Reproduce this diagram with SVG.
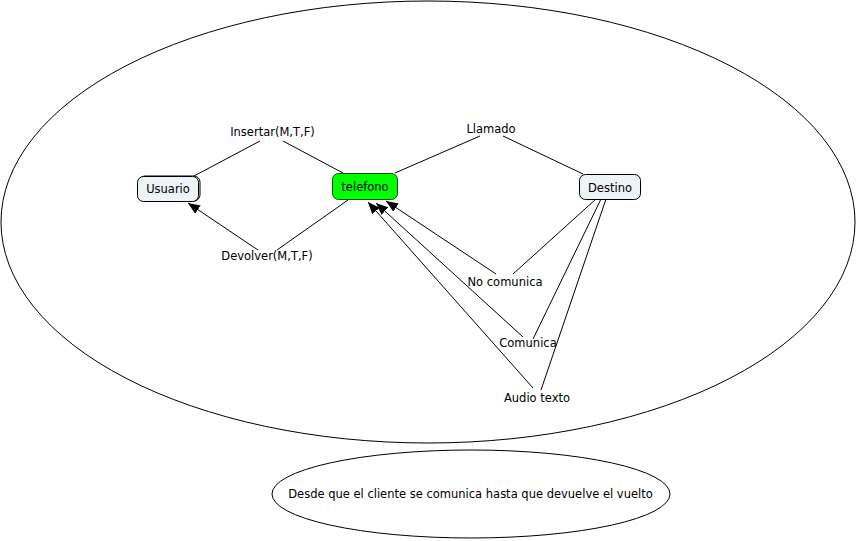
<svg xmlns="http://www.w3.org/2000/svg" width="856" height="541" viewBox="0 0 856 541">
<defs>
<style>
text{font-family:"DejaVu Sans","Liberation Sans",sans-serif;font-size:11.5px;fill:#000;text-anchor:middle}
.line{stroke:#000;stroke-width:1;fill:none}
.node{stroke:#000;stroke-width:1}
</style>
<marker id="arr" viewBox="0 0 12 10" refX="12" refY="5" markerWidth="12" markerHeight="10" markerUnits="userSpaceOnUse" orient="auto">
<path d="M0,0 L12,5 L0,10 Z" fill="#000"/>
</marker>
</defs>
<rect width="856" height="541" fill="#fff"/>
<g id="outer">
<ellipse cx="428" cy="222" rx="427" ry="221" fill="none" stroke="#000"/>
</g>
<g id="note">
<ellipse cx="471" cy="494" rx="199" ry="44" fill="none" stroke="#000"/>
<text x="470.5" y="498">Desde que el cliente se comunica hasta que devuelve el vuelto</text>
</g>
<g id="connectors">
<line class="line" x1="194" y1="176" x2="260" y2="141"/>
<line class="line" x1="283" y1="141" x2="343" y2="173"/>
<line class="line" x1="395" y1="173" x2="480" y2="136"/>
<line class="line" x1="503" y1="136" x2="583" y2="174"/>
<line class="line" x1="348" y1="200" x2="277" y2="250"/>
<line class="line" x1="258" y1="250" x2="188" y2="203" marker-end="url(#arr)"/>
<line class="line" x1="596" y1="199" x2="513" y2="274"/>
<line class="line" x1="496" y1="274" x2="386" y2="201" marker-end="url(#arr)"/>
<line class="line" x1="601" y1="199" x2="533" y2="339"/>
<line class="line" x1="523" y1="337" x2="376" y2="203" marker-end="url(#arr)"/>
<line class="line" x1="606" y1="199" x2="541" y2="390"/>
<line class="line" x1="533" y1="388" x2="368" y2="202" marker-end="url(#arr)"/>
</g>
<g id="lbl-insertar"><text x="272.5" y="136">Insertar(M,T,F)</text></g>
<g id="lbl-llamado"><text x="491" y="133">Llamado</text></g>
<g id="lbl-devolver"><text x="267" y="260">Devolver(M,T,F)</text></g>
<g id="lbl-nocomunica"><text x="505" y="286">No comunica</text></g>
<g id="lbl-comunica"><text x="528" y="347">Comunica</text></g>
<g id="lbl-audio"><text x="537" y="402">Audio texto</text></g>
<g id="usuario">
<rect x="139" y="176" width="61" height="25" rx="6" fill="none" stroke="#000"/>
<rect class="node" x="137.5" y="176.5" width="61" height="25" rx="6" fill="#eef3f6"/>
<text x="168" y="193">Usuario</text>
</g>
<g id="telefono">
<rect x="332.5" y="173.5" width="65" height="26" rx="6" fill="#00ff00" stroke="#1a4d1a"/>
<text x="365" y="191">telefono</text>
</g>
<g id="destino">
<rect class="node" x="579.5" y="174.5" width="61" height="25" rx="6" fill="#eef3f6"/>
<text x="610" y="191.5">Destino</text>
</g>
</svg>
